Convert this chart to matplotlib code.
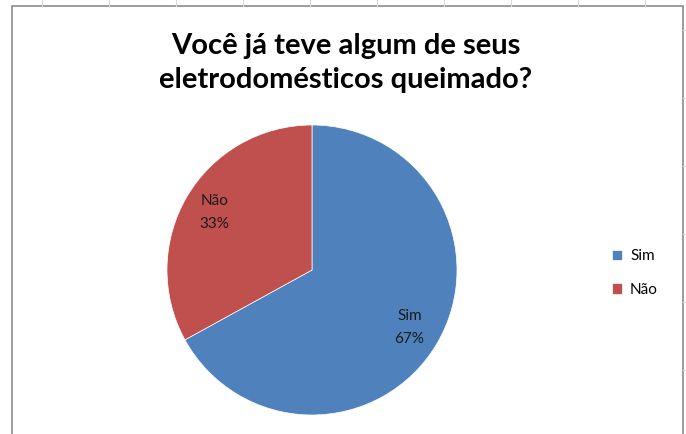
import matplotlib.pyplot as plt
from matplotlib.patches import Rectangle

categories = ["Sim", "Não"]
values = [67, 33]
colors = ["#4F81BD", "#C0504D"]
title = "Você já teve algum de seus\neletrodomésticos queimado?"

plt.rcParams['font.family'] = ['Lato', 'DejaVu Sans']

fig = plt.figure(figsize=(6.86, 4.34), dpi=100)
W, H = 686, 434

# spreadsheet grid behind the chart
for gx in range(42, W, 67):
    fig.add_artist(plt.Line2D([gx / W, gx / W], [1 - 6 / H, 1], color="#d8d8d8", lw=0.8))
for gy in [30, 98, 166, 234, 302, 370]:
    fig.add_artist(plt.Line2D([1 - 3 / W, 1], [1 - gy / H, 1 - gy / H], color="#d8d8d8", lw=0.8))

# chart frame
fig.add_artist(Rectangle((12 / W, -0.05), (683 - 12) / W, 1 - 6 / H + 0.05,
                         transform=fig.transFigure, fill=False, ec="#8c8c8c", lw=1.2))

fig.text(346 / W, 1 - 63 / H, title, ha="center", va="center",
         fontsize=21, fontweight="bold", linespacing=1.4)

r = 145
cx, cy = 312, 270
ax = fig.add_axes([(cx - r) / W, (H - cy - r) / H, 2 * r / W, 2 * r / H])
total = sum(values)
labels = [f"{c}\n{round(v * 100 / total)}%" for c, v in zip(categories, values)]
wedges, texts = ax.pie(values, colors=colors, startangle=90, counterclock=False,
                       labels=labels, labeldistance=0.78,
                       wedgeprops=dict(edgecolor="white", linewidth=0.5),
                       textprops=dict(fontsize=11, ha="center", va="center",
                                      color="#1a1a1a", linespacing=1.75))
ax.set_xlim(-1, 1)
ax.set_ylim(-1, 1)
ax.set_aspect("equal")

fig.legend(wedges, categories, loc="center left", bbox_to_anchor=(598 / W, 1 - 273 / H),
           frameon=False, fontsize=11, handlelength=0.7, handleheight=0.7,
           handletextpad=0.5, labelspacing=1.25)

fig.savefig("out.png", dpi=100)
